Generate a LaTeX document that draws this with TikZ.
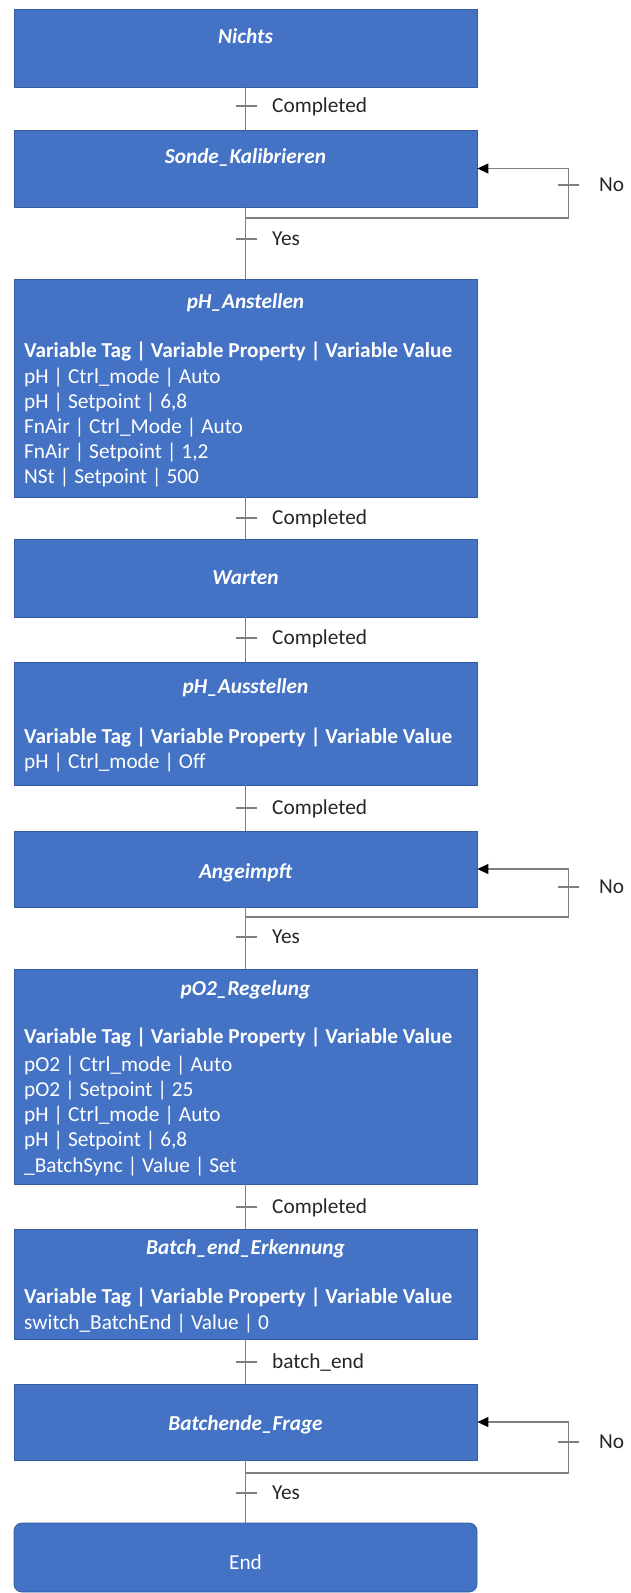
\documentclass[tikz,border=0pt]{standalone}
\usepackage{fontspec}
\setmainfont{Carlito}
\usetikzlibrary{arrows.meta}
\definecolor{stepblue}{RGB}{68,114,196}
\definecolor{stepedge}{RGB}{52,90,160}
\definecolor{linegray}{RGB}{128,128,128}
\definecolor{lbltext}{RGB}{38,38,38}
\newcommand{\stepfont}{\fontsize{21.3}{25}\selectfont}
\begin{document}
\begin{tikzpicture}[x=1pt,y=-1pt,
  stepbox/.style={draw=stepedge, line width=0.8pt, fill=stepblue, minimum width=463pt, inner sep=0pt},
  endbox/.style={stepbox, rounded corners=8pt},
  titletext/.style={text=white, font=\stepfont\bfseries\itshape, inner sep=0pt, anchor=base},
  endtext/.style={text=white, font=\stepfont, inner sep=0pt, anchor=base},
  hdrtext/.style={text=white, font=\stepfont\bfseries, inner sep=0pt, anchor=base west},
  rowtext/.style={text=white, font=\stepfont, inner sep=0pt, anchor=base west},
  lbl/.style={text=lbltext, font=\stepfont, inner sep=0pt, anchor=base west},
  conn/.style={draw=linegray, line width=1.2pt},
  loopconn/.style={conn, -{Triangle[length=11pt,width=10pt,color=black]}},
  tickbar/.style={fill=linegray, minimum width=21pt, minimum height=1.2pt, inner sep=0pt},
]
\useasboundingbox (0,0) rectangle (630,1593);

% step boxes
\node[stepbox, minimum height=78pt]  (nichts)    at (245.5,48)     {};
\node[stepbox, minimum height=77pt]  (sonde)     at (245.5,168.5)  {};
\node[stepbox, minimum height=218pt] (phan)      at (245.5,388)    {};
\node[stepbox, minimum height=78pt]  (warten)    at (245.5,578)    {};
\node[stepbox, minimum height=123pt] (phaus)     at (245.5,723.5)  {};
\node[stepbox, minimum height=76pt]  (angeimpft) at (245.5,869)    {};
\node[stepbox, minimum height=215pt] (po2)       at (245.5,1076.5) {};
\node[stepbox, minimum height=110pt] (batchend)  at (245.5,1284)   {};
\node[stepbox, minimum height=76pt]  (frage)     at (245.5,1422)   {};
\node[endbox,  minimum height=69pt]  (ende)      at (245.5,1557.5) {};

% step titles
\node[titletext] (nichts-t)    at (245.5,43)   {Nichts};
\node[titletext] (sonde-t)     at (245.5,163)  {Sonde\_Kalibrieren};
\node[titletext] (phan-t)      at (245.5,308)  {pH\_Anstellen};
\node[titletext] (warten-t)    at (245.5,584)  {Warten};
\node[titletext] (phaus-t)     at (245.5,693)  {pH\_Ausstellen};
\node[titletext] (angeimpft-t) at (245.5,878)  {Angeimpft};
\node[titletext] (po2-t)       at (245.5,995)  {pO2\_Regelung};
\node[titletext] (batchend-t)  at (245.5,1254) {Batch\_end\_Erkennung};
\node[titletext] (frage-t)     at (245.5,1430) {Batchende\_Frage};
\node[endtext]   (ende-t)      at (245.5,1569) {End};

% parameter tables
\node[hdrtext] (phan-h)  at (24,357) {Variable Tag | Variable Property | Variable Value};
\node[rowtext] (phan-r1) at (24,383) {pH | Ctrl\_mode | Auto};
\node[rowtext] (phan-r2) at (24,408) {pH | Setpoint | 6,8};
\node[rowtext] (phan-r3) at (24,433) {FnAir | Ctrl\_Mode | Auto};
\node[rowtext] (phan-r4) at (24,458) {FnAir | Setpoint | 1,2};
\node[rowtext] (phan-r5) at (24,483) {NSt | Setpoint | 500};

\node[hdrtext] (phaus-h)  at (24,743) {Variable Tag | Variable Property | Variable Value};
\node[rowtext] (phaus-r1) at (24,768) {pH | Ctrl\_mode | Off};

\node[hdrtext] (po2-h)  at (24,1043) {Variable Tag | Variable Property | Variable Value};
\node[rowtext] (po2-r1) at (24,1071) {pO2 | Ctrl\_mode | Auto};
\node[rowtext] (po2-r2) at (24,1096) {pO2 | Setpoint | 25};
\node[rowtext] (po2-r3) at (24,1121) {pH | Ctrl\_mode | Auto};
\node[rowtext] (po2-r4) at (24,1146) {pH | Setpoint | 6,8};
\node[rowtext] (po2-r5) at (24,1172) {\_BatchSync | Value | Set};

\node[hdrtext] (batchend-h)  at (24,1303) {Variable Tag | Variable Property | Variable Value};
\node[rowtext] (batchend-r1) at (24,1329) {switch\_BatchEnd | Value | 0};

% transitions between steps
\draw[conn] (nichts) -- (sonde);
\draw[conn] (sonde) -- (phan);
\draw[conn] (phan) -- (warten);
\draw[conn] (warten) -- (phaus);
\draw[conn] (phaus) -- (angeimpft);
\draw[conn] (angeimpft) -- (po2);
\draw[conn] (po2) -- (batchend);
\draw[conn] (batchend) -- (frage);
\draw[conn] (frage) -- (ende);

% feedback loops for the "No" branches
\coordinate (sonde-split) at (245.5,218);
\coordinate (sonde-turn)  at (568.5,218);
\draw[loopconn] (sonde-split) -- (sonde-turn) |- (sonde.east);
\coordinate (angeimpft-split) at (245.5,917);
\coordinate (angeimpft-turn)  at (568.5,917);
\draw[loopconn] (angeimpft-split) -- (angeimpft-turn) |- (angeimpft.east);
\coordinate (frage-split) at (245.5,1473);
\coordinate (frage-turn)  at (568.5,1473);
\draw[loopconn] (frage-split) -- (frage-turn) |- (frage.east);

% transition bars and conditions
\node[tickbar] (t1) at (246,106)  {};
\node[lbl] (t1-l) at (272,112)  {Completed};
\node[tickbar] (t2) at (246,239)  {};
\node[lbl] (t2-l) at (272,245)  {Yes};
\node[tickbar] (t3) at (246,518)  {};
\node[lbl] (t3-l) at (272,524)  {Completed};
\node[tickbar] (t4) at (246,638)  {};
\node[lbl] (t4-l) at (272,644)  {Completed};
\node[tickbar] (t5) at (246,808)  {};
\node[lbl] (t5-l) at (272,814)  {Completed};
\node[tickbar] (t6) at (246,937)  {};
\node[lbl] (t6-l) at (272,943)  {Yes};
\node[tickbar] (t7) at (246,1207) {};
\node[lbl] (t7-l) at (272,1213) {Completed};
\node[tickbar] (t8) at (246,1362) {};
\node[lbl] (t8-l) at (272,1368) {batch\_end};
\node[tickbar] (t9) at (246,1493) {};
\node[lbl] (t9-l) at (272,1499) {Yes};

\node[tickbar] (n1) at (568.5,185)  {};
\node[lbl] (n1-l) at (599,191)  {No};
\node[tickbar] (n2) at (568.5,887)  {};
\node[lbl] (n2-l) at (599,893)  {No};
\node[tickbar] (n3) at (568.5,1442) {};
\node[lbl] (n3-l) at (599,1448) {No};
\end{tikzpicture}
\end{document}
